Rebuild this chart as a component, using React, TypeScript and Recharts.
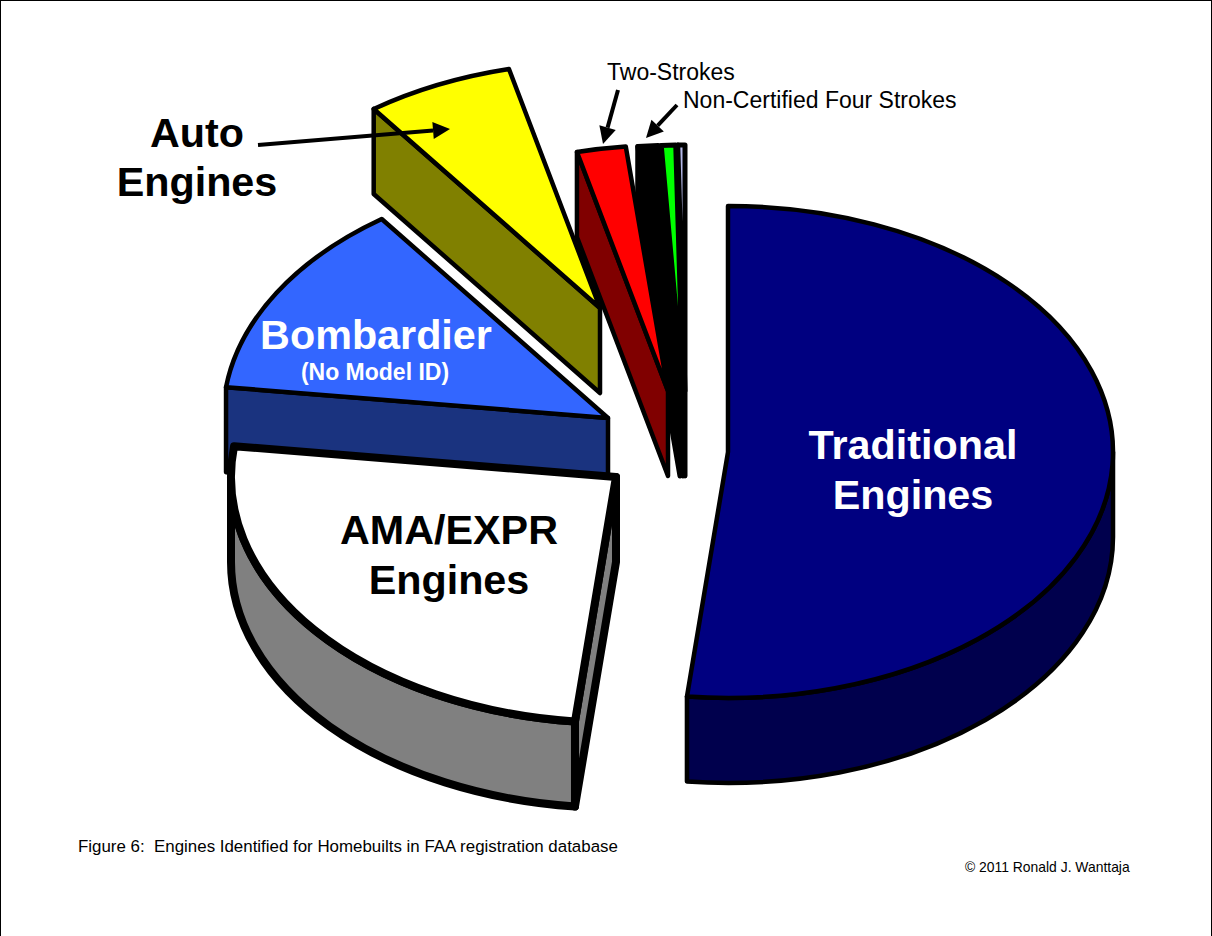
import React from 'react';
import { PieChart, Pie } from 'recharts';

const WIDTH = 1212;
const HEIGHT = 936;
const FONT = '"Liberation Sans", Arial, sans-serif';

// Slices, listed counter-clockwise from 12 o'clock so that the back ones paint first.
const categories = ['Other Small', 'Other Green', 'Non-Certified Four Strokes', 'Two-Strokes', 'Auto Engines', 'Bombardier', 'AMA/EXPR Engines', 'Traditional Engines'];
const shares = [0.3, 0.6, 0.85, 2.05, 6.2, 13.0, 25.3, 51.7];

// Appearance of each slice, in the same order.
const topColors = ['#B4B8E8', '#00FF00', '#000000', '#FF0000', '#FFFF00', '#3366FF', '#FFFFFF', '#000080'];
const wallColors = ['#000000', '#000000', '#000000', '#800000', '#808000', '#1A337F', '#808080', '#00004D'];
const explodeX = [-43, -45, -48, -60, -128, -120, -112, 0];
const explodeY = [-61, -61, -61, -61, -144, -34, 25, 0];
const strokeWidths = [5, 5, 5, 4.5, 4.5, 4.5, 8, 4.5];

const CX = 728;
const CY = 452;
const RX = 385;
const RY = 246;
const DEPTH = 85;

const pieData = categories.map((name, i) => ({ name, value: shares[i] }));

const rad = (d: number) => (d * Math.PI) / 180;

function Slice3D(props: any) {
  const i = categories.indexOf(props.name);
  const r = props.outerRadius;
  const ry = (r * RY) / RX;
  const x0 = props.cx + explodeX[i];
  const y0 = props.cy + explodeY[i];
  const a0 = Math.min(props.startAngle, props.endAngle);
  const a1 = Math.max(props.startAngle, props.endAngle);
  const px = (a: number) => x0 + r * Math.cos(rad(a));
  const py = (a: number) => y0 - ry * Math.sin(rad(a));
  const stroke = { stroke: '#000', strokeWidth: strokeWidths[i], strokeLinejoin: 'round' as const };

  const radialWall = (a: number) =>
    `M${x0},${y0} L${px(a)},${py(a)} L${px(a)},${py(a) + DEPTH} L${x0},${y0 + DEPTH} Z`;

  const lo = Math.max(a0, 180);
  const hi = Math.min(a1, 360);
  const outer =
    lo < hi
      ? `M${px(lo)},${py(lo)} A${r},${ry} 0 0 0 ${px(hi)},${py(hi)} L${px(hi)},${py(hi) + DEPTH} A${r},${ry} 0 0 1 ${px(lo)},${py(lo) + DEPTH} Z`
      : null;

  const large = a1 - a0 > 180 ? 1 : 0;
  const top = `M${x0},${y0} L${px(a0)},${py(a0)} A${r},${ry} 0 ${large} 0 ${px(a1)},${py(a1)} Z`;

  return (
    <g>
      {Math.cos(rad(a0)) > 1e-6 && <path d={radialWall(a0)} fill={wallColors[i]} {...stroke} />}
      {Math.cos(rad(a1)) < -1e-6 && <path d={radialWall(a1)} fill={wallColors[i]} {...stroke} />}
      {outer && <path d={outer} fill={wallColors[i]} {...stroke} />}
      <path d={top} fill={topColors[i]} {...stroke} />
    </g>
  );
}

const sliceLabels = [
  { text: 'Auto', x: 197, y: 147, size: 41.3, weight: 700, fill: '#000' },
  { text: 'Engines', x: 197, y: 196, size: 41.3, weight: 700, fill: '#000' },
  { text: 'Bombardier', x: 376, y: 349, size: 41.3, weight: 700, fill: '#fff' },
  { text: '(No Model ID)', x: 375, y: 380, size: 23, weight: 700, fill: '#fff' },
  { text: 'AMA/EXPR', x: 449, y: 544, size: 41.3, weight: 700, fill: '#000' },
  { text: 'Engines', x: 449, y: 594, size: 41.3, weight: 700, fill: '#000' },
  { text: 'Traditional', x: 913, y: 459, size: 41.3, weight: 700, fill: '#fff' },
  { text: 'Engines', x: 913, y: 509, size: 41.3, weight: 700, fill: '#fff' },
];

const notes = [
  { text: 'Two-Strokes', x: 607, y: 80, size: 23 },
  { text: 'Non-Certified Four Strokes', x: 683, y: 108, size: 23 },
  { text: 'Figure 6:  Engines Identified for Homebuilts in FAA registration database', x: 78, y: 852, size: 16.9 },
  { text: '\u00A9 2011 Ronald J. Wanttaja', x: 965, y: 872, size: 13.9 },
];

const arrows = [
  { x1: 258, y1: 145, x2: 450, y2: 129 },
  { x1: 618, y1: 90, x2: 603, y2: 144 },
  { x1: 677, y1: 105, x2: 646, y2: 138 },
];

function Arrow({ x1, y1, x2, y2 }: { x1: number; y1: number; x2: number; y2: number }) {
  const len = Math.hypot(x2 - x1, y2 - y1);
  const ux = (x2 - x1) / len;
  const uy = (y2 - y1) / len;
  const headL = 17;
  const headW = 8.5;
  const bx = x2 - ux * headL;
  const by = y2 - uy * headL;
  return (
    <g>
      <line x1={x1} y1={y1} x2={bx} y2={by} stroke="#000" strokeWidth={4} />
      <polygon
        points={`${x2},${y2} ${bx - uy * headW},${by + ux * headW} ${bx + uy * headW},${by - ux * headW}`}
        fill="#000"
      />
    </g>
  );
}

export default function App() {
  return (
    <div
      style={{
        position: 'absolute',
        left: 0,
        top: 0,
        width: WIDTH,
        height: HEIGHT,
        background: '#fff',
        overflow: 'hidden',
      }}
    >
      <PieChart width={WIDTH} height={HEIGHT} margin={{ top: 0, right: 0, bottom: 0, left: 0 }}>
        <Pie
          data={pieData}
          dataKey="value"
          nameKey="name"
          cx={CX}
          cy={CY}
          innerRadius={0}
          outerRadius={RX}
          startAngle={90}
          endAngle={450}
          paddingAngle={0}
          isAnimationActive={false}
          shape={Slice3D}
          activeShape={Slice3D}
          inactiveShape={Slice3D}
        />
      </PieChart>
      <svg
        width={WIDTH}
        height={HEIGHT}
        style={{ position: 'absolute', left: 0, top: 0, pointerEvents: 'none' }}
      >
        {arrows.map((a, i) => (
          <Arrow key={i} {...a} />
        ))}
        {sliceLabels.map((l, i) => (
          <text key={i} x={l.x} y={l.y} textAnchor="middle" fontFamily={FONT} fontSize={l.size} fontWeight={l.weight} fill={l.fill}>
            {l.text}
          </text>
        ))}
        {notes.map((n, i) => (
          <text key={i} x={n.x} y={n.y} fontFamily={FONT} fontSize={n.size} fill="#000" style={{ whiteSpace: 'pre' }}>
            {n.text}
          </text>
        ))}
      </svg>
      <div style={{ position: 'absolute', left: 0, top: 0, width: WIDTH, height: 1, background: '#000' }} />
      <div style={{ position: 'absolute', left: 0, top: 0, width: 1, height: HEIGHT, background: '#000' }} />
      <div style={{ position: 'absolute', right: 0, top: 0, width: 1, height: HEIGHT, background: '#000' }} />
    </div>
  );
}
